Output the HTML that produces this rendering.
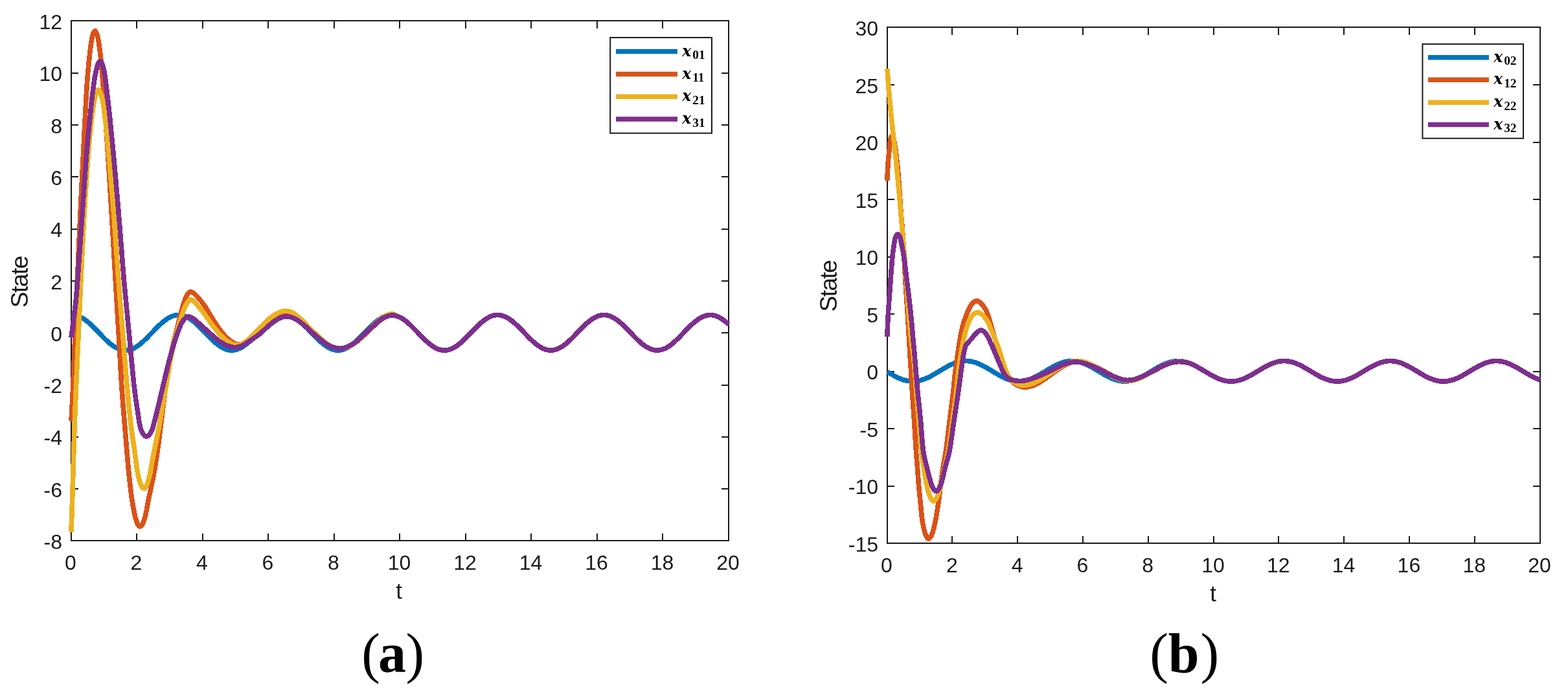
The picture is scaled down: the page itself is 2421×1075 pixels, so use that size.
<!DOCTYPE html>
<html lang="en"><head><meta charset="utf-8"><title>State trajectories</title>
<style>html,body{margin:0;padding:0;background:#fff}body{width:2421px;height:1075px;overflow:hidden}svg{display:block}
.tk{font-family:"Liberation Sans",Arial,Helvetica,sans-serif;font-size:32.00px;fill:#1a1a1a}
.al{font-family:"Liberation Sans",Arial,Helvetica,sans-serif;font-size:34.80px;fill:#1a1a1a}.yl{font-size:37.00px;letter-spacing:-1.50px}
.lg{font-family:"Liberation Serif","Times New Roman",serif;fill:#000}
.lx{font-family:"DejaVu Serif","Liberation Serif",serif;font-style:italic;font-weight:bold;font-size:23.50px}.ls{font-weight:bold;font-size:19.30px}
.cap{font-family:"Liberation Serif","Times New Roman",serif;font-size:86.00px;fill:#000}.cap .b{font-weight:bold}
.cv{fill:none;stroke-width:7.60;stroke-linejoin:round;stroke-linecap:butt;shape-rendering:crispEdges}.axl{shape-rendering:crispEdges}
</style></head><body>
<svg width="2421" height="1075" viewBox="0 0 2421 1075">
<rect width="2421" height="1075" fill="#fff"/>
<g id="plot-a">
<path class="axl" d="M211.00 835.00v-11.00 M211.00 32.00v12.00 M313.00 835.00v-11.00 M313.00 32.00v12.00 M414.00 835.00v-11.00 M414.00 32.00v12.00 M516.00 835.00v-11.00 M516.00 32.00v12.00 M617.00 835.00v-11.00 M617.00 32.00v12.00 M719.00 835.00v-11.00 M719.00 32.00v12.00 M820.00 835.00v-11.00 M820.00 32.00v12.00 M922.00 835.00v-11.00 M922.00 32.00v12.00 M1023.00 835.00v-11.00 M1023.00 32.00v12.00 M110.00 755.00h11.00 M1125.00 755.00h-11.00 M110.00 675.00h11.00 M1125.00 675.00h-11.00 M110.00 595.00h11.00 M1125.00 595.00h-11.00 M110.00 514.00h11.00 M1125.00 514.00h-11.00 M110.00 434.00h11.00 M1125.00 434.00h-11.00 M110.00 354.00h11.00 M1125.00 354.00h-11.00 M110.00 273.00h11.00 M1125.00 273.00h-11.00 M110.00 193.00h11.00 M1125.00 193.00h-11.00 M110.00 113.00h11.00 M1125.00 113.00h-11.00" stroke="#1a1a1a" stroke-width="2.00" fill="none"/>
<rect class="axl" x="110.00" y="32.00" width="1015.00" height="803.00" fill="none" stroke="#1a1a1a" stroke-width="2.00"/>
<g class="tk" text-anchor="middle">
<text x="109.0" y="879.8">0</text>
<text x="210.5" y="879.8">2</text>
<text x="312.0" y="879.8">4</text>
<text x="413.5" y="879.8">6</text>
<text x="515.0" y="879.8">8</text>
<text x="616.5" y="879.8">10</text>
<text x="718.0" y="879.8">12</text>
<text x="819.5" y="879.8">14</text>
<text x="921.0" y="879.8">16</text>
<text x="1022.5" y="879.8">18</text>
<text x="1124.0" y="879.8">20</text>
</g>
<g class="tk" text-anchor="end">
<text x="96.0" y="848.0">-8</text>
<text x="96.0" y="767.7">-6</text>
<text x="96.0" y="687.4">-4</text>
<text x="96.0" y="607.1">-2</text>
<text x="96.0" y="526.8">0</text>
<text x="96.0" y="446.5">2</text>
<text x="96.0" y="366.2">4</text>
<text x="96.0" y="285.9">6</text>
<text x="96.0" y="205.6">8</text>
<text x="96.0" y="125.3">10</text>
<text x="96.0" y="45.0">12</text>
</g>
<path class="cv" stroke="#0072BD" d="M110.0 486.5C111.7 486.4 113.4 486.5 115.1 486.7C116.8 487.0 118.5 487.4 120.2 488.0C121.9 488.5 123.6 489.3 125.2 490.2C126.9 491.1 128.6 492.1 130.3 493.2C132.0 494.4 133.7 495.7 135.4 497.1C137.1 498.5 138.8 500.0 140.5 501.6C142.2 503.2 143.8 504.8 145.5 506.5C147.2 508.2 148.9 510.0 150.6 511.7C152.3 513.5 154.0 515.3 155.7 517.0C157.4 518.8 159.0 520.5 160.8 522.2C162.4 523.9 164.1 525.5 165.8 527.1C167.5 528.6 169.2 530.1 170.9 531.4C172.6 532.7 174.3 534.0 176.0 535.1C177.6 536.2 179.3 537.2 181.1 538.0C182.7 538.8 184.4 539.5 186.1 540.0C187.8 540.5 189.5 540.8 191.2 541.0C192.9 541.1 194.6 541.1 196.3 541.0C198.0 540.8 199.7 540.4 201.3 539.9C203.1 539.4 204.8 538.7 206.4 537.9C208.1 537.1 209.8 536.0 211.5 535.0C213.2 533.8 214.9 532.6 216.6 531.2C218.3 529.9 220.0 528.4 221.7 526.8C223.4 525.3 225.0 523.6 226.7 522.0C228.4 520.3 230.1 518.5 231.8 516.8C233.5 515.0 235.2 513.3 236.9 511.5C238.6 509.8 240.2 508.0 241.9 506.3C243.6 504.6 245.3 502.9 247.0 501.4C248.7 499.8 250.4 498.3 252.1 496.9C253.8 495.6 255.5 494.2 257.2 493.1C258.8 492.0 260.5 490.9 262.2 490.0C263.9 489.2 265.6 488.5 267.3 487.9C269.0 487.4 270.7 486.9 272.4 486.7C274.1 486.5 275.8 486.4 277.5 486.6C279.2 486.7 280.9 487.0 282.6 487.4C284.3 487.9 286.0 488.5 287.6 489.3C289.3 490.1 291.0 491.0 292.7 492.1C294.4 493.1 296.1 494.4 297.8 495.7C299.5 497.0 301.2 498.4 302.9 499.9C304.6 501.5 306.2 503.1 307.9 504.7C309.6 506.4 311.3 508.1 313.0 509.9C314.7 511.6 316.4 513.4 318.1 515.2C319.8 516.9 321.4 518.7 323.1 520.4C324.8 522.1 326.5 523.8 328.2 525.4C329.9 527.0 331.6 528.5 333.3 529.9C335.0 531.3 336.7 532.7 338.4 533.9C340.0 535.1 341.7 536.1 343.5 537.1C345.1 538.0 346.8 538.8 348.5 539.4C350.2 540.0 351.9 540.5 353.6 540.7C355.3 541.0 357.0 541.1 358.7 541.1C360.4 541.0 362.1 540.8 363.8 540.4C365.5 540.0 367.2 539.4 368.8 538.7C370.5 538.0 372.2 537.1 373.9 536.1C375.6 535.1 377.3 533.9 379.0 532.6C380.7 531.3 382.4 529.9 384.1 528.5C385.8 527.0 387.4 525.4 389.1 523.7C390.8 522.1 392.5 520.4 394.2 518.7C395.9 516.9 397.6 515.1 399.3 513.4C401.0 511.6 402.6 509.8 404.4 508.1C406.0 506.4 407.7 504.7 409.4 503.1C411.1 501.5 412.8 499.9 414.5 498.4C416.2 497.0 417.9 495.6 419.6 494.4C421.2 493.2 422.9 492.0 424.6 491.0C426.3 490.1 428.0 489.2 429.7 488.5C431.4 487.9 433.1 487.4 434.8 487.0C436.5 486.7 438.2 486.5 439.9 486.5C441.6 486.5 443.3 486.7 445.0 487.0C446.7 487.3 448.4 487.9 450.0 488.5C451.7 489.2 453.4 490.0 455.1 491.0C456.8 492.0 458.5 493.1 460.2 494.3C461.9 495.5 463.6 496.9 465.2 498.4C467.0 499.8 468.6 501.4 470.3 503.0C472.0 504.6 473.7 506.3 475.4 508.0C477.1 509.8 478.8 511.5 480.5 513.3C482.2 515.0 483.9 516.8 485.6 518.6C487.2 520.3 488.9 522.0 490.6 523.7C492.3 525.3 494.0 526.9 495.7 528.4C497.4 529.9 499.1 531.3 500.8 532.6C502.4 533.8 504.1 535.0 505.9 536.0C507.5 537.0 509.2 537.9 510.9 538.7C512.6 539.4 514.3 540.0 516.0 540.4C517.7 540.8 519.4 541.0 521.1 541.1C522.8 541.1 524.5 541.0 526.2 540.8C527.9 540.5 529.6 540.0 531.2 539.4C532.9 538.8 534.6 538.0 536.3 537.1C538.0 536.2 539.7 535.1 541.4 533.9C543.1 532.7 544.8 531.4 546.5 530.0C548.2 528.6 549.9 527.0 551.5 525.5C553.2 523.9 554.9 522.2 556.6 520.5C558.3 518.8 560.0 517.0 561.7 515.3C563.4 513.5 565.1 511.7 566.8 510.0C568.4 508.2 570.1 506.5 571.8 504.8C573.5 503.2 575.2 501.5 576.9 500.0C578.6 498.5 580.3 497.1 582.0 495.7C583.6 494.4 585.3 493.2 587.0 492.1C588.7 491.1 590.4 490.1 592.1 489.3C593.8 488.6 595.5 487.9 597.2 487.4C598.9 487.0 600.6 486.7 602.3 486.6C604.0 486.4 605.7 486.5 607.4 486.7C609.1 486.9 610.8 487.3 612.4 487.9C614.1 488.4 615.8 489.2 617.5 490.0C619.2 490.9 620.9 491.9 622.6 493.0C624.3 494.2 626.0 495.5 627.7 496.8C629.4 498.2 631.1 499.7 632.7 501.3C634.4 502.9 636.1 504.5 637.8 506.2C639.5 507.9 641.2 509.7 642.9 511.4C644.6 513.2 646.3 515.0 648.0 516.7C649.6 518.4 651.3 520.2 653.0 521.9C654.7 523.6 656.4 525.2 658.1 526.8C659.8 528.3 661.5 529.8 663.2 531.2C664.8 532.5 666.5 533.8 668.2 534.9C669.9 536.0 671.6 537.0 673.3 537.8C675.0 538.7 676.7 539.4 678.4 539.9C680.1 540.4 681.8 540.8 683.5 541.0C685.2 541.1 686.9 541.1 688.5 541.0C690.2 540.8 692.0 540.5 693.6 540.0C695.3 539.5 697.0 538.8 698.7 538.0C700.4 537.2 702.1 536.2 703.8 535.2C705.5 534.1 707.2 532.8 708.9 531.5C710.6 530.1 712.3 528.6 713.9 527.1C715.6 525.6 717.3 523.9 719.0 522.3C720.7 520.6 722.4 518.9 724.1 517.1C725.8 515.4 727.5 513.6 729.2 511.8C730.8 510.1 732.5 508.3 734.2 506.6C735.9 504.9 737.6 503.3 739.3 501.7C741.0 500.1 742.7 498.6 744.4 497.2C746.0 495.8 747.7 494.5 749.5 493.3C751.1 492.2 752.8 491.1 754.5 490.2C756.2 489.3 757.9 488.6 759.6 488.0C761.3 487.4 763.0 487.0 764.7 486.8C766.4 486.5 768.1 486.4 769.8 486.5C771.4 486.6 773.2 486.9 774.8 487.3C776.5 487.8 778.2 488.4 779.9 489.1C781.6 489.9 783.3 490.8 785.0 491.9C786.7 492.9 788.4 494.1 790.0 495.4C791.8 496.7 793.5 498.2 795.1 499.7C796.8 501.2 798.5 502.8 800.2 504.4C801.9 506.1 803.6 507.8 805.3 509.5C807.0 511.3 808.7 513.1 810.4 514.8C812.0 516.6 813.7 518.4 815.4 520.1C817.1 521.8 818.8 523.5 820.5 525.1C822.2 526.7 823.9 528.2 825.6 529.7C827.2 531.1 828.9 532.4 830.7 533.7C832.3 534.8 834.0 536.0 835.7 536.9C837.4 537.8 839.1 538.6 840.8 539.3C842.5 539.9 844.2 540.4 845.9 540.7C847.6 541.0 849.3 541.1 851.0 541.1C852.6 541.1 854.4 540.8 856.0 540.5C857.7 540.1 859.4 539.5 861.1 538.9C862.8 538.1 864.5 537.3 866.2 536.3C867.9 535.3 869.6 534.1 871.2 532.9C873.0 531.6 874.7 530.2 876.3 528.7C878.0 527.3 879.7 525.7 881.4 524.1C883.1 522.4 884.8 520.7 886.5 519.0C888.2 517.2 889.9 515.5 891.5 513.7C893.2 512.0 894.9 510.2 896.6 508.4C898.3 506.7 900.0 505.0 901.7 503.4C903.4 501.8 905.1 500.2 906.8 498.7C908.4 497.3 910.1 495.9 911.9 494.6C913.5 493.4 915.2 492.2 916.9 491.2C918.6 490.2 920.3 489.4 922.0 488.7C923.7 488.0 925.4 487.4 927.1 487.1C928.8 486.7 930.5 486.5 932.1 486.5C933.8 486.5 935.5 486.6 937.2 486.9C938.9 487.3 940.6 487.8 942.3 488.4C944.0 489.0 945.7 489.9 947.4 490.8C949.1 491.8 950.8 492.9 952.5 494.1C954.2 495.3 955.9 496.7 957.5 498.1C959.2 499.5 960.9 501.1 962.6 502.7C964.3 504.3 966.0 506.0 967.7 507.7C969.4 509.4 971.1 511.2 972.8 513.0C974.4 514.7 976.1 516.5 977.8 518.2C979.5 520.0 981.2 521.7 982.9 523.4C984.6 525.0 986.3 526.6 988.0 528.1C989.6 529.6 991.3 531.0 993.1 532.3C994.7 533.6 996.4 534.8 998.1 535.8C999.8 536.9 1001.5 537.8 1003.2 538.5C1004.9 539.3 1006.6 539.9 1008.3 540.3C1009.9 540.7 1011.7 541.0 1013.4 541.1C1015.0 541.2 1016.7 541.1 1018.4 540.8C1020.1 540.6 1021.8 540.1 1023.5 539.5C1025.2 538.9 1026.9 538.2 1028.6 537.3C1030.3 536.4 1032.0 535.3 1033.7 534.2C1035.4 533.0 1037.1 531.7 1038.7 530.3C1040.4 528.9 1042.1 527.3 1043.8 525.8C1045.5 524.2 1047.2 522.5 1048.9 520.8C1050.6 519.1 1052.3 517.3 1054.0 515.6C1055.6 513.8 1057.3 512.0 1059.0 510.3C1060.7 508.6 1062.4 506.8 1064.1 505.1C1065.8 503.5 1067.5 501.8 1069.2 500.3C1070.8 498.8 1072.5 497.3 1074.2 496.0C1075.9 494.7 1077.6 493.4 1079.3 492.3C1081.0 491.3 1082.7 490.3 1084.4 489.5C1086.1 488.7 1087.8 488.0 1089.5 487.5C1091.1 487.1 1092.9 486.7 1094.6 486.6C1096.2 486.4 1097.9 486.5 1099.6 486.7C1101.3 486.9 1103.0 487.2 1104.7 487.8C1106.4 488.3 1108.1 489.0 1109.8 489.8C1111.5 490.7 1113.2 491.7 1114.8 492.8C1116.6 494.0 1118.3 495.2 1119.9 496.6C1121.6 498.0 1123.3 499.4 1125.0 501.0"/>
<path class="cv" stroke="#D95319" d="M110.0 650.5C110.9 636.1 111.7 619.4 112.6 600.5C113.7 575.8 114.8 543.4 116.0 515.0C117.1 486.8 118.2 459.9 119.5 430.5C120.9 398.6 122.4 363.8 124.0 330.5C125.6 297.2 127.2 263.8 128.9 230.5C130.6 197.2 132.6 155.3 134.3 130.5C135.3 115.8 136.2 106.2 137.3 95.3C138.3 85.9 139.2 76.7 140.4 69.0C141.3 63.0 142.1 57.0 143.5 53.1C144.4 50.7 145.6 47.6 146.7 47.6C147.8 47.6 149.0 50.7 149.9 53.1C151.3 57.0 152.1 63.0 153.0 69.0C154.2 76.7 155.1 85.9 156.1 95.3C157.2 106.2 158.0 115.8 159.1 130.5C161.0 155.3 163.9 197.2 166.1 230.5C168.3 263.8 170.3 297.2 172.3 330.5C174.3 363.8 176.2 398.6 178.1 430.5C179.8 459.9 181.5 486.7 183.2 515.0C184.9 543.4 186.3 574.5 188.1 600.5C189.6 622.3 191.2 639.7 192.9 660.5C194.8 682.9 196.9 710.6 198.9 730.5C200.4 745.2 201.9 758.3 203.4 769.0C204.5 776.5 205.4 782.4 206.6 788.3C207.6 793.3 208.6 798.2 209.8 802.1C210.8 805.3 211.6 808.5 213.0 810.4C213.9 811.8 215.1 813.2 216.2 813.2C217.3 813.2 218.5 811.9 219.4 810.7C220.7 809.0 221.6 806.0 222.6 803.2C223.8 799.6 224.8 795.2 225.8 790.6C227.0 785.3 227.6 780.2 229.0 773.1C231.2 762.0 235.3 744.1 237.8 730.5C240.1 718.1 241.7 706.5 243.4 694.7C245.1 683.2 246.2 673.5 247.9 660.5C250.1 643.3 252.9 619.3 255.6 600.5C258.0 583.7 260.6 566.1 263.0 553.0C264.7 543.7 266.2 536.8 267.9 529.3C269.4 522.5 271.1 516.1 272.6 510.0C274.0 504.4 275.3 499.6 276.8 494.0C278.4 487.7 280.1 480.0 281.9 474.0C283.4 469.0 284.9 464.2 286.5 460.5C287.7 457.7 288.6 455.2 290.0 453.5C291.1 452.2 292.2 450.9 293.6 450.7C295.1 450.5 296.9 451.5 298.5 452.5C300.4 453.6 301.9 455.3 304.0 457.5C307.3 461.0 311.9 466.7 315.5 471.8C319.3 477.2 322.6 483.3 326.2 489.0C329.8 494.7 333.3 500.7 337.0 505.9C340.4 510.6 343.8 515.2 347.5 519.0C350.8 522.5 354.4 525.8 358.0 528.0C361.1 529.9 364.3 531.6 367.5 532.0C370.6 532.4 373.8 531.6 377.0 530.5C380.7 529.2 384.4 526.6 388.0 524.0C392.0 521.2 395.5 517.8 400.0 514.0C405.8 509.0 413.8 500.9 420.0 496.5C424.6 493.2 428.8 490.6 433.0 489.0C436.4 487.7 439.7 486.8 443.0 486.8C446.3 486.8 449.6 487.5 453.0 489.0C457.2 490.8 461.4 494.4 466.0 498.0C471.9 502.6 478.5 509.4 485.0 515.0C491.5 520.6 498.8 527.7 505.0 531.5C509.6 534.3 514.1 536.2 518.0 537.3C520.9 538.1 523.2 538.5 526.0 538.4C529.2 538.3 532.4 537.9 536.0 536.5C540.9 534.7 546.4 531.2 552.0 527.0C559.3 521.6 567.8 511.8 575.0 505.5C581.0 500.2 586.3 494.6 592.0 491.5C596.8 488.9 601.8 486.8 606.5 486.8C611.1 486.8 616.5 489.6 620.0 491.4C622.6 492.7 624.1 494.1 626.1 495.6C628.2 497.2 630.2 499.0 632.2 500.8C634.3 502.7 636.3 504.7 638.3 506.7C640.4 508.8 642.4 510.9 644.4 513.0C646.4 515.1 648.4 517.3 650.5 519.3C652.5 521.4 654.5 523.4 656.6 525.3C658.6 527.2 660.6 529.1 662.7 530.7C664.7 532.4 666.7 533.9 668.8 535.2C670.7 536.5 672.8 537.7 674.8 538.6C676.8 539.4 678.9 540.1 680.9 540.5C682.9 541.0 685.0 541.2 687.0 541.1C689.1 541.0 691.1 540.7 693.1 540.2C695.2 539.6 697.2 538.8 699.2 537.8C701.3 536.8 703.3 535.5 705.3 534.1C707.4 532.7 709.4 531.1 711.4 529.4C713.5 527.6 715.5 525.7 717.5 523.8C719.5 521.8 721.5 519.7 723.6 517.6C725.6 515.6 727.6 513.4 729.7 511.3C731.7 509.2 733.7 507.1 735.7 505.1C737.8 503.1 739.8 501.2 741.8 499.4C743.8 497.6 745.9 495.9 747.9 494.4C749.9 492.9 751.9 491.6 754.0 490.5C756.0 489.4 758.0 488.5 760.1 487.8C762.1 487.2 764.2 486.8 766.2 486.6C768.2 486.4 770.3 486.5 772.3 486.8C774.3 487.1 776.4 487.7 778.4 488.5C780.4 489.3 782.5 490.4 784.5 491.6C786.5 492.8 788.6 494.3 790.6 495.8C792.6 497.4 794.6 499.2 796.6 501.0C798.7 502.9 800.7 504.9 802.7 507.0C804.8 509.0 806.8 511.1 808.8 513.2C810.9 515.3 812.9 517.5 814.9 519.6C816.9 521.6 819.0 523.6 821.0 525.6C823.0 527.4 825.0 529.3 827.1 530.9C829.1 532.5 831.1 534.1 833.2 535.4C835.2 536.6 837.2 537.8 839.3 538.7C841.3 539.5 843.3 540.2 845.4 540.6C847.4 541.0 849.4 541.2 851.5 541.1C853.5 541.0 855.5 540.6 857.5 540.1C859.6 539.5 861.6 538.7 863.6 537.7C865.7 536.6 867.7 535.4 869.7 534.0C871.8 532.5 873.8 530.9 875.8 529.2C877.9 527.4 879.9 525.5 881.9 523.6C884.0 521.6 886.0 519.5 888.0 517.4C890.0 515.3 892.1 513.2 894.1 511.1C896.1 509.0 898.1 506.9 900.2 504.9C902.2 502.9 904.2 500.9 906.3 499.1C908.3 497.4 910.3 495.7 912.4 494.2C914.3 492.8 916.4 491.4 918.4 490.4C920.4 489.3 922.5 488.4 924.5 487.8C926.5 487.1 928.6 486.7 930.6 486.6C932.6 486.4 934.7 486.5 936.7 486.9C938.8 487.2 940.8 487.8 942.8 488.6C944.9 489.4 946.9 490.5 948.9 491.7C951.0 492.9 953.0 494.4 955.0 496.0C957.1 497.6 959.1 499.4 961.1 501.2C963.1 503.1 965.2 505.2 967.2 507.2C969.2 509.2 971.2 511.4 973.3 513.5C975.3 515.6 977.3 517.7 979.3 519.8C981.4 521.8 983.4 523.9 985.4 525.8C987.4 527.6 989.5 529.5 991.5 531.1C993.5 532.7 995.5 534.2 997.6 535.5C999.6 536.8 1001.6 537.9 1003.7 538.8C1005.7 539.6 1007.7 540.3 1009.8 540.6C1011.8 541.0 1013.9 541.2 1015.9 541.1C1017.9 541.0 1020.0 540.6 1022.0 540.0C1024.0 539.4 1026.1 538.6 1028.1 537.6C1030.1 536.5 1032.2 535.2 1034.2 533.8C1036.2 532.4 1038.3 530.7 1040.2 529.0C1042.3 527.2 1044.3 525.3 1046.3 523.3C1048.4 521.3 1050.4 519.2 1052.4 517.2C1054.5 515.1 1056.5 512.9 1058.5 510.8C1060.5 508.7 1062.6 506.6 1064.6 504.6C1066.6 502.7 1068.6 500.7 1070.7 498.9C1072.7 497.2 1074.7 495.5 1076.8 494.1C1078.8 492.6 1080.8 491.3 1082.9 490.2C1084.9 489.2 1086.9 488.3 1089.0 487.7C1091.0 487.1 1093.0 486.7 1095.1 486.6C1097.1 486.4 1099.1 486.5 1101.1 486.9C1103.2 487.2 1105.2 487.9 1107.2 488.7C1109.3 489.5 1111.3 490.6 1113.3 491.8C1115.4 493.1 1117.5 494.6 1119.4 496.2C1121.4 497.7 1123.2 499.3 1125.0 501.0"/>
<path class="cv" stroke="#EDB120" d="M110.0 821.6C110.3 812.9 110.6 802.6 111.0 790.5C111.5 773.8 112.3 751.3 112.9 730.5C113.6 708.1 114.2 682.9 115.0 660.5C115.7 639.7 116.5 622.3 117.4 600.5C118.5 574.5 119.9 543.4 121.2 515.0C122.5 486.8 123.6 459.8 125.0 430.5C126.5 398.6 128.1 363.8 130.1 330.5C132.1 297.2 134.9 254.8 136.9 230.5C138.0 216.6 138.9 207.9 140.0 197.6C141.0 188.5 141.9 179.7 143.0 171.8C143.9 165.1 144.8 158.7 146.0 153.4C146.9 149.2 147.7 144.9 149.0 142.3C149.9 140.6 151.0 138.6 152.0 138.6C153.0 138.6 154.1 140.6 155.0 142.3C156.3 144.9 157.1 149.2 158.0 153.4C159.2 158.7 160.1 165.1 161.0 171.8C162.1 179.7 163.0 188.5 164.0 197.6C165.1 207.9 165.9 216.6 167.2 230.5C169.4 254.8 173.1 297.2 175.7 330.5C178.3 363.8 180.4 398.6 182.8 430.5C185.0 459.9 187.2 486.8 189.5 515.0C191.8 543.4 194.1 574.5 196.5 600.5C198.5 622.3 200.6 643.3 202.7 660.5C204.3 673.5 206.0 683.1 207.6 694.7C209.3 706.6 210.9 721.8 212.6 730.8C213.6 736.3 214.6 740.1 215.8 743.9C216.8 746.8 217.7 749.9 219.0 751.7C219.9 753.0 221.1 754.3 222.2 754.3C223.3 754.3 224.5 753.0 225.4 751.7C226.7 749.9 227.6 746.8 228.6 743.9C229.8 740.1 230.8 735.6 231.8 730.8C233.0 725.1 233.9 718.1 235.0 712.0C236.1 706.1 237.1 701.4 238.4 694.7C240.3 685.2 243.2 671.4 245.3 660.5C247.2 650.6 248.6 641.7 250.3 632.0C252.1 621.8 253.8 611.9 255.8 600.5C258.1 586.9 260.7 569.6 263.3 556.0C265.5 544.4 267.6 533.8 270.0 524.0C272.0 515.7 274.4 508.0 276.5 501.0C278.2 495.1 279.7 489.8 281.5 484.7C283.1 480.2 284.8 475.5 286.5 472.0C287.8 469.4 289.0 467.1 290.5 465.5C291.6 464.3 292.8 463.0 294.1 462.8C295.6 462.6 297.4 463.7 299.0 464.8C301.1 466.3 302.8 468.9 305.0 471.5C308.1 475.1 312.1 480.1 315.5 484.7C319.1 489.4 322.4 494.7 326.0 499.5C329.6 504.3 333.3 509.4 337.0 513.7C340.4 517.7 343.8 521.5 347.5 524.5C350.8 527.2 354.5 529.6 358.0 531.0C361.0 532.2 363.9 533.2 367.0 533.0C370.3 532.8 373.8 531.4 377.0 529.5C380.8 527.3 384.3 523.5 388.0 520.0C392.0 516.2 395.5 511.9 400.0 507.5C405.3 502.2 412.4 494.8 418.0 490.5C422.2 487.2 426.1 484.7 430.0 483.0C433.4 481.5 436.6 480.5 440.0 480.3C443.3 480.1 446.6 480.5 450.0 482.0C454.5 483.9 459.1 488.2 464.0 492.5C470.3 497.9 477.1 506.1 484.0 512.5C490.8 518.9 498.6 526.7 505.0 531.0C509.6 534.1 514.1 536.3 518.0 537.5C520.9 538.4 523.2 538.7 526.0 538.6C529.2 538.5 532.4 537.9 536.0 536.5C540.9 534.5 546.4 530.9 552.0 526.5C559.3 520.8 567.8 510.6 575.0 504.0C581.0 498.5 586.4 492.7 592.0 489.5C596.4 486.9 600.5 484.6 605.0 484.8C609.9 485.0 616.2 489.3 620.0 491.4C622.6 492.8 624.1 494.1 626.1 495.6C628.2 497.2 630.2 499.0 632.2 500.8C634.3 502.7 636.3 504.7 638.3 506.7C640.4 508.8 642.4 510.9 644.4 513.0C646.4 515.1 648.4 517.3 650.5 519.3C652.5 521.4 654.5 523.4 656.6 525.3C658.6 527.2 660.6 529.1 662.7 530.7C664.7 532.4 666.7 533.9 668.8 535.2C670.7 536.5 672.8 537.7 674.8 538.6C676.8 539.4 678.9 540.1 680.9 540.5C682.9 541.0 685.0 541.2 687.0 541.1C689.1 541.0 691.1 540.7 693.1 540.2C695.2 539.6 697.2 538.8 699.2 537.8C701.3 536.8 703.3 535.5 705.3 534.1C707.4 532.7 709.4 531.1 711.4 529.4C713.5 527.6 715.5 525.7 717.5 523.8C719.5 521.8 721.5 519.7 723.6 517.6C725.6 515.6 727.6 513.4 729.7 511.3C731.7 509.2 733.7 507.1 735.7 505.1C737.8 503.1 739.8 501.2 741.8 499.4C743.8 497.6 745.9 495.9 747.9 494.4C749.9 492.9 751.9 491.6 754.0 490.5C756.0 489.4 758.0 488.5 760.1 487.8C762.1 487.2 764.2 486.8 766.2 486.6C768.2 486.4 770.3 486.5 772.3 486.8C774.3 487.1 776.4 487.7 778.4 488.5C780.4 489.3 782.5 490.4 784.5 491.6C786.5 492.8 788.6 494.3 790.6 495.8C792.6 497.4 794.6 499.2 796.6 501.0C798.7 502.9 800.7 504.9 802.7 507.0C804.8 509.0 806.8 511.1 808.8 513.2C810.9 515.3 812.9 517.5 814.9 519.6C816.9 521.6 819.0 523.6 821.0 525.6C823.0 527.4 825.0 529.3 827.1 530.9C829.1 532.5 831.1 534.1 833.2 535.4C835.2 536.6 837.2 537.8 839.3 538.7C841.3 539.5 843.3 540.2 845.4 540.6C847.4 541.0 849.4 541.2 851.5 541.1C853.5 541.0 855.5 540.6 857.5 540.1C859.6 539.5 861.6 538.7 863.6 537.7C865.7 536.6 867.7 535.4 869.7 534.0C871.8 532.5 873.8 530.9 875.8 529.2C877.9 527.4 879.9 525.5 881.9 523.6C884.0 521.6 886.0 519.5 888.0 517.4C890.0 515.3 892.1 513.2 894.1 511.1C896.1 509.0 898.1 506.9 900.2 504.9C902.2 502.9 904.2 500.9 906.3 499.1C908.3 497.4 910.3 495.7 912.4 494.2C914.3 492.8 916.4 491.4 918.4 490.4C920.4 489.3 922.5 488.4 924.5 487.8C926.5 487.1 928.6 486.7 930.6 486.6C932.6 486.4 934.7 486.5 936.7 486.9C938.8 487.2 940.8 487.8 942.8 488.6C944.9 489.4 946.9 490.5 948.9 491.7C951.0 492.9 953.0 494.4 955.0 496.0C957.1 497.6 959.1 499.4 961.1 501.2C963.1 503.1 965.2 505.2 967.2 507.2C969.2 509.2 971.2 511.4 973.3 513.5C975.3 515.6 977.3 517.7 979.3 519.8C981.4 521.8 983.4 523.9 985.4 525.8C987.4 527.6 989.5 529.5 991.5 531.1C993.5 532.7 995.5 534.2 997.6 535.5C999.6 536.8 1001.6 537.9 1003.7 538.8C1005.7 539.6 1007.7 540.3 1009.8 540.6C1011.8 541.0 1013.9 541.2 1015.9 541.1C1017.9 541.0 1020.0 540.6 1022.0 540.0C1024.0 539.4 1026.1 538.6 1028.1 537.6C1030.1 536.5 1032.2 535.2 1034.2 533.8C1036.2 532.4 1038.3 530.7 1040.2 529.0C1042.3 527.2 1044.3 525.3 1046.3 523.3C1048.4 521.3 1050.4 519.2 1052.4 517.2C1054.5 515.1 1056.5 512.9 1058.5 510.8C1060.5 508.7 1062.6 506.6 1064.6 504.6C1066.6 502.7 1068.6 500.7 1070.7 498.9C1072.7 497.2 1074.7 495.5 1076.8 494.1C1078.8 492.6 1080.8 491.3 1082.9 490.2C1084.9 489.2 1086.9 488.3 1089.0 487.7C1091.0 487.1 1093.0 486.7 1095.1 486.6C1097.1 486.4 1099.1 486.5 1101.1 486.9C1103.2 487.2 1105.2 487.9 1107.2 488.7C1109.3 489.5 1111.3 490.6 1113.3 491.8C1115.4 493.1 1117.5 494.6 1119.4 496.2C1121.4 497.7 1123.2 499.3 1125.0 501.0"/>
<path class="cv" stroke="#7E2F8E" d="M110.0 521.2C111.0 512.9 112.1 504.5 113.2 496.0C114.3 487.4 115.6 479.6 116.6 470.0C117.9 458.2 118.7 446.7 120.0 430.5C122.0 404.8 124.6 363.8 127.0 330.5C129.4 297.2 131.9 259.0 134.3 230.5C136.1 209.3 137.8 192.5 139.6 175.0C141.2 159.3 143.0 142.4 144.7 130.5C145.8 122.5 146.8 116.2 148.1 110.5C149.1 106.0 149.9 101.5 151.3 98.8C152.2 97.0 153.4 94.9 154.5 94.9C155.6 94.9 156.8 97.0 157.7 98.8C159.1 101.5 160.0 106.0 160.9 110.5C162.1 116.2 162.8 122.5 163.8 130.5C165.3 142.4 167.2 159.3 168.9 175.0C170.8 192.5 172.5 209.3 174.5 230.5C177.2 259.0 180.5 297.2 183.3 330.5C186.1 363.8 188.4 398.6 191.2 430.5C193.8 459.9 196.6 486.8 199.3 515.0C202.0 543.4 204.9 578.2 207.6 600.5C209.3 614.9 210.9 625.3 212.6 636.0C214.0 644.9 215.2 654.8 216.8 660.6C217.7 663.8 218.7 665.8 219.8 667.9C220.7 669.7 221.7 671.5 222.9 672.6C223.8 673.4 225.0 674.1 226.0 674.1C227.0 674.1 228.1 673.5 229.1 672.8C230.3 671.9 231.3 670.4 232.2 668.9C233.3 667.1 234.2 665.4 235.2 662.7C236.9 658.0 238.8 649.7 240.5 643.0C242.3 636.1 243.9 629.0 245.6 622.0C247.3 614.9 248.9 607.9 250.7 600.5C252.6 592.6 254.5 584.1 256.5 576.0C258.5 568.0 260.4 559.9 262.5 552.0C264.6 544.3 266.9 536.5 269.2 529.3C271.3 522.6 273.6 515.6 275.7 510.0C277.4 505.6 279.0 501.6 280.7 498.5C281.9 496.3 283.2 494.5 284.5 493.0C285.6 491.8 286.8 490.7 288.0 490.0C289.1 489.4 290.2 489.0 291.4 489.0C292.7 489.0 294.1 489.6 295.5 490.3C297.3 491.1 299.1 492.5 301.0 494.0C303.5 495.9 306.2 498.7 309.0 501.2C311.9 503.8 314.9 506.5 318.1 509.3C321.6 512.4 325.3 515.9 329.0 519.0C332.7 522.2 336.7 525.7 340.5 528.2C343.7 530.4 346.6 532.1 350.0 533.5C353.5 534.9 357.4 536.3 361.0 536.5C364.4 536.7 367.7 536.1 371.0 535.0C374.7 533.8 378.0 531.5 382.0 529.0C387.3 525.7 394.1 521.1 400.0 516.5C406.1 511.7 412.3 504.9 418.0 500.5C422.6 497.0 426.6 493.8 431.0 491.8C434.8 490.1 438.7 488.8 442.5 488.8C446.3 488.8 450.1 489.8 454.0 491.5C458.6 493.5 463.2 497.2 468.0 501.0C473.8 505.5 479.8 511.8 486.0 517.0C492.2 522.2 499.3 528.5 505.0 532.0C509.0 534.4 512.6 536.0 516.0 537.0C518.7 537.8 520.9 538.2 523.5 538.3C526.2 538.4 528.8 538.3 532.0 537.3C536.6 535.9 542.3 533.0 548.0 529.0C556.2 523.3 566.9 511.3 575.0 504.5C581.2 499.2 586.2 493.9 592.0 491.0C596.8 488.5 601.9 486.8 606.6 486.9C611.2 487.0 616.5 489.7 620.0 491.4C622.6 492.7 624.1 494.1 626.1 495.6C628.2 497.2 630.2 499.0 632.2 500.8C634.3 502.7 636.3 504.7 638.3 506.7C640.4 508.8 642.4 510.9 644.4 513.0C646.4 515.1 648.4 517.3 650.5 519.3C652.5 521.4 654.5 523.4 656.6 525.3C658.6 527.2 660.6 529.1 662.7 530.7C664.7 532.4 666.7 533.9 668.8 535.2C670.7 536.5 672.8 537.7 674.8 538.6C676.8 539.4 678.9 540.1 680.9 540.5C682.9 541.0 685.0 541.2 687.0 541.1C689.1 541.0 691.1 540.7 693.1 540.2C695.2 539.6 697.2 538.8 699.2 537.8C701.3 536.8 703.3 535.5 705.3 534.1C707.4 532.7 709.4 531.1 711.4 529.4C713.5 527.6 715.5 525.7 717.5 523.8C719.5 521.8 721.5 519.7 723.6 517.6C725.6 515.6 727.6 513.4 729.7 511.3C731.7 509.2 733.7 507.1 735.7 505.1C737.8 503.1 739.8 501.2 741.8 499.4C743.8 497.6 745.9 495.9 747.9 494.4C749.9 492.9 751.9 491.6 754.0 490.5C756.0 489.4 758.0 488.5 760.1 487.8C762.1 487.2 764.2 486.8 766.2 486.6C768.2 486.4 770.3 486.5 772.3 486.8C774.3 487.1 776.4 487.7 778.4 488.5C780.4 489.3 782.5 490.4 784.5 491.6C786.5 492.8 788.6 494.3 790.6 495.8C792.6 497.4 794.6 499.2 796.6 501.0C798.7 502.9 800.7 504.9 802.7 507.0C804.8 509.0 806.8 511.1 808.8 513.2C810.9 515.3 812.9 517.5 814.9 519.6C816.9 521.6 819.0 523.6 821.0 525.6C823.0 527.4 825.0 529.3 827.1 530.9C829.1 532.5 831.1 534.1 833.2 535.4C835.2 536.6 837.2 537.8 839.3 538.7C841.3 539.5 843.3 540.2 845.4 540.6C847.4 541.0 849.4 541.2 851.5 541.1C853.5 541.0 855.5 540.6 857.5 540.1C859.6 539.5 861.6 538.7 863.6 537.7C865.7 536.6 867.7 535.4 869.7 534.0C871.8 532.5 873.8 530.9 875.8 529.2C877.9 527.4 879.9 525.5 881.9 523.6C884.0 521.6 886.0 519.5 888.0 517.4C890.0 515.3 892.1 513.2 894.1 511.1C896.1 509.0 898.1 506.9 900.2 504.9C902.2 502.9 904.2 500.9 906.3 499.1C908.3 497.4 910.3 495.7 912.4 494.2C914.3 492.8 916.4 491.4 918.4 490.4C920.4 489.3 922.5 488.4 924.5 487.8C926.5 487.1 928.6 486.7 930.6 486.6C932.6 486.4 934.7 486.5 936.7 486.9C938.8 487.2 940.8 487.8 942.8 488.6C944.9 489.4 946.9 490.5 948.9 491.7C951.0 492.9 953.0 494.4 955.0 496.0C957.1 497.6 959.1 499.4 961.1 501.2C963.1 503.1 965.2 505.2 967.2 507.2C969.2 509.2 971.2 511.4 973.3 513.5C975.3 515.6 977.3 517.7 979.3 519.8C981.4 521.8 983.4 523.9 985.4 525.8C987.4 527.6 989.5 529.5 991.5 531.1C993.5 532.7 995.5 534.2 997.6 535.5C999.6 536.8 1001.6 537.9 1003.7 538.8C1005.7 539.6 1007.7 540.3 1009.8 540.6C1011.8 541.0 1013.9 541.2 1015.9 541.1C1017.9 541.0 1020.0 540.6 1022.0 540.0C1024.0 539.4 1026.1 538.6 1028.1 537.6C1030.1 536.5 1032.2 535.2 1034.2 533.8C1036.2 532.4 1038.3 530.7 1040.2 529.0C1042.3 527.2 1044.3 525.3 1046.3 523.3C1048.4 521.3 1050.4 519.2 1052.4 517.2C1054.5 515.1 1056.5 512.9 1058.5 510.8C1060.5 508.7 1062.6 506.6 1064.6 504.6C1066.6 502.7 1068.6 500.7 1070.7 498.9C1072.7 497.2 1074.7 495.5 1076.8 494.1C1078.8 492.6 1080.8 491.3 1082.9 490.2C1084.9 489.2 1086.9 488.3 1089.0 487.7C1091.0 487.1 1093.0 486.7 1095.1 486.6C1097.1 486.4 1099.1 486.5 1101.1 486.9C1103.2 487.2 1105.2 487.9 1107.2 488.7C1109.3 489.5 1111.3 490.6 1113.3 491.8C1115.4 493.1 1117.5 494.6 1119.4 496.2C1121.4 497.7 1123.2 499.3 1125.0 501.0"/>
<rect x="942.20" y="58.00" width="156.80" height="147.70" fill="#fff" stroke="#1a1a1a" stroke-width="2.00"/>
<path d="M951.0 79.5H1046.0" stroke="#0072BD" stroke-width="7.4"/>
<text class="lg" y="86.5"><tspan class="lx" x="1053.3">x</tspan><tspan class="ls" x="1069.3" dy="4.5">01</tspan></text>
<path d="M951.0 114.5H1046.0" stroke="#D95319" stroke-width="7.4"/>
<text class="lg" y="121.5"><tspan class="lx" x="1053.3">x</tspan><tspan class="ls" x="1069.3" dy="4.5">11</tspan></text>
<path d="M951.0 149.3H1046.0" stroke="#EDB120" stroke-width="7.4"/>
<text class="lg" y="156.3"><tspan class="lx" x="1053.3">x</tspan><tspan class="ls" x="1069.3" dy="4.5">21</tspan></text>
<path d="M951.0 184.0H1046.0" stroke="#7E2F8E" stroke-width="7.4"/>
<text class="lg" y="191.0"><tspan class="lx" x="1053.3">x</tspan><tspan class="ls" x="1069.3" dy="4.5">31</tspan></text>
<text class="al" text-anchor="middle" x="616.0" y="925.0">t</text>
<text class="al yl" text-anchor="middle" transform="translate(42.8 435.7) rotate(-90)">State</text>
<text class="cap" y="1037.7"><tspan x="558.2">(</tspan><tspan class="b" x="584.1">a</tspan><tspan x="626.4">)</tspan></text>
</g>
<g id="plot-b">
<path class="axl" d="M1470.00 839.00v-11.00 M1470.00 42.00v12.00 M1571.00 839.00v-11.00 M1571.00 42.00v12.00 M1672.00 839.00v-11.00 M1672.00 42.00v12.00 M1773.00 839.00v-11.00 M1773.00 42.00v12.00 M1874.00 839.00v-11.00 M1874.00 42.00v12.00 M1974.00 839.00v-11.00 M1974.00 42.00v12.00 M2075.00 839.00v-11.00 M2075.00 42.00v12.00 M2176.00 839.00v-11.00 M2176.00 42.00v12.00 M2277.00 839.00v-11.00 M2277.00 42.00v12.00 M1370.00 751.00h11.00 M2378.00 751.00h-11.00 M1370.00 662.00h11.00 M2378.00 662.00h-11.00 M1370.00 574.00h11.00 M2378.00 574.00h-11.00 M1370.00 485.00h11.00 M2378.00 485.00h-11.00 M1370.00 397.00h11.00 M2378.00 397.00h-11.00 M1370.00 308.00h11.00 M2378.00 308.00h-11.00 M1370.00 220.00h11.00 M2378.00 220.00h-11.00 M1370.00 131.00h11.00 M2378.00 131.00h-11.00" stroke="#1a1a1a" stroke-width="2.00" fill="none"/>
<rect class="axl" x="1370.00" y="42.00" width="1008.00" height="797.00" fill="none" stroke="#1a1a1a" stroke-width="2.00"/>
<g class="tk" text-anchor="middle">
<text x="1369.0" y="883.8">0</text>
<text x="1469.8" y="883.8">2</text>
<text x="1570.6" y="883.8">4</text>
<text x="1671.4" y="883.8">6</text>
<text x="1772.2" y="883.8">8</text>
<text x="1873.0" y="883.8">10</text>
<text x="1973.8" y="883.8">12</text>
<text x="2074.6" y="883.8">14</text>
<text x="2175.4" y="883.8">16</text>
<text x="2276.2" y="883.8">18</text>
<text x="2377.0" y="883.8">20</text>
</g>
<g class="tk" text-anchor="end">
<text x="1356.0" y="852.0">-15</text>
<text x="1356.0" y="763.4">-10</text>
<text x="1356.0" y="674.9">-5</text>
<text x="1356.0" y="586.3">0</text>
<text x="1356.0" y="497.8">5</text>
<text x="1356.0" y="409.2">10</text>
<text x="1356.0" y="320.7">15</text>
<text x="1356.0" y="232.1">20</text>
<text x="1356.0" y="143.6">25</text>
<text x="1356.0" y="55.0">30</text>
</g>
<path class="cv" stroke="#0072BD" d="M1370.0 574.3C1371.7 575.3 1373.4 576.3 1375.0 577.3C1376.7 578.3 1378.4 579.2 1380.1 580.1C1381.8 581.0 1383.4 581.9 1385.1 582.7C1386.8 583.5 1388.5 584.3 1390.2 585.0C1391.8 585.7 1393.5 586.3 1395.2 586.8C1396.9 587.3 1398.6 587.8 1400.2 588.1C1401.9 588.5 1403.6 588.7 1405.3 588.9C1407.0 589.1 1408.6 589.1 1410.3 589.1C1412.0 589.1 1413.7 588.9 1415.4 588.7C1417.0 588.5 1418.7 588.1 1420.4 587.7C1422.1 587.3 1423.8 586.8 1425.4 586.2C1427.1 585.6 1428.8 584.9 1430.5 584.2C1432.2 583.5 1433.9 582.7 1435.5 581.8C1437.2 581.0 1438.9 580.0 1440.6 579.1C1442.2 578.2 1443.9 577.2 1445.6 576.2C1447.3 575.2 1449.0 574.2 1450.6 573.2C1452.3 572.1 1454.0 571.1 1455.7 570.1C1457.4 569.1 1459.0 568.2 1460.7 567.2C1462.4 566.3 1464.1 565.4 1465.8 564.5C1467.4 563.7 1469.1 562.9 1470.8 562.2C1472.5 561.5 1474.1 560.8 1475.8 560.3C1477.5 559.7 1479.2 559.2 1480.9 558.8C1482.6 558.4 1484.2 558.1 1485.9 557.9C1487.6 557.7 1489.3 557.6 1491.0 557.6C1492.6 557.6 1494.3 557.6 1496.0 557.8C1497.7 558.0 1499.4 558.3 1501.0 558.7C1502.7 559.0 1504.4 559.5 1506.1 560.0C1507.8 560.6 1509.5 561.2 1511.1 561.9C1512.8 562.6 1514.5 563.4 1516.2 564.2C1517.9 565.0 1519.5 565.9 1521.2 566.8C1522.9 567.8 1524.6 568.7 1526.2 569.7C1527.9 570.7 1529.6 571.7 1531.3 572.7C1533.0 573.8 1534.6 574.8 1536.3 575.8C1538.0 576.8 1539.7 577.8 1541.4 578.7C1543.0 579.7 1544.7 580.6 1546.4 581.5C1548.1 582.3 1549.7 583.2 1551.4 583.9C1553.1 584.7 1554.8 585.4 1556.5 586.0C1558.1 586.6 1559.8 587.1 1561.5 587.5C1563.2 588.0 1564.9 588.3 1566.6 588.6C1568.2 588.8 1569.9 589.0 1571.6 589.1C1573.3 589.1 1575.0 589.1 1576.6 589.0C1578.3 588.8 1580.0 588.6 1581.7 588.3C1583.4 588.0 1585.1 587.5 1586.7 587.0C1588.4 586.5 1590.1 585.9 1591.8 585.3C1593.5 584.6 1595.1 583.9 1596.8 583.1C1598.5 582.3 1600.2 581.4 1601.8 580.5C1603.5 579.6 1605.2 578.7 1606.9 577.7C1608.6 576.7 1610.2 575.7 1611.9 574.7C1613.6 573.7 1615.3 572.7 1617.0 571.7C1618.6 570.6 1620.3 569.6 1622.0 568.7C1623.7 567.7 1625.4 566.8 1627.0 565.9C1628.7 565.0 1630.4 564.1 1632.1 563.3C1633.7 562.6 1635.4 561.8 1637.1 561.2C1638.8 560.5 1640.5 560.0 1642.2 559.5C1643.8 559.0 1645.5 558.6 1647.2 558.3C1648.9 558.0 1650.6 557.8 1652.2 557.7C1653.9 557.6 1655.6 557.5 1657.3 557.6C1659.0 557.7 1660.6 557.9 1662.3 558.2C1664.0 558.4 1665.7 558.8 1667.4 559.3C1669.1 559.7 1670.7 560.3 1672.4 560.9C1674.1 561.5 1675.8 562.2 1677.4 563.0C1679.1 563.8 1680.8 564.6 1682.5 565.5C1684.2 566.4 1685.8 567.3 1687.5 568.2C1689.2 569.2 1690.9 570.2 1692.6 571.2C1694.2 572.2 1695.9 573.2 1697.6 574.2C1699.3 575.3 1701.0 576.3 1702.6 577.3C1704.3 578.2 1706.0 579.2 1707.7 580.1C1709.4 581.0 1711.0 581.9 1712.7 582.7C1714.4 583.5 1716.1 584.3 1717.8 585.0C1719.4 585.7 1721.1 586.3 1722.8 586.8C1724.5 587.3 1726.2 587.8 1727.8 588.1C1729.5 588.5 1731.2 588.7 1732.9 588.9C1734.6 589.1 1736.2 589.1 1737.9 589.1C1739.6 589.1 1741.3 588.9 1743.0 588.7C1744.6 588.5 1746.3 588.1 1748.0 587.7C1749.7 587.3 1751.4 586.8 1753.0 586.2C1754.7 585.6 1756.4 585.0 1758.1 584.2C1759.8 583.5 1761.5 582.7 1763.1 581.8C1764.8 581.0 1766.5 580.1 1768.2 579.1C1769.8 578.2 1771.5 577.2 1773.2 576.2C1774.9 575.2 1776.6 574.2 1778.2 573.2C1779.9 572.2 1781.6 571.2 1783.3 570.2C1785.0 569.2 1786.6 568.2 1788.3 567.3C1790.0 566.3 1791.7 565.4 1793.4 564.6C1795.0 563.7 1796.7 562.9 1798.4 562.2C1800.1 561.5 1801.7 560.8 1803.4 560.3C1805.1 559.7 1806.8 559.2 1808.5 558.8C1810.2 558.4 1811.8 558.1 1813.5 557.9C1815.2 557.7 1816.9 557.6 1818.6 557.6C1820.2 557.6 1821.9 557.6 1823.6 557.8C1825.3 558.0 1827.0 558.3 1828.6 558.6C1830.3 559.0 1832.0 559.5 1833.7 560.0C1835.4 560.6 1837.1 561.2 1838.7 561.9C1840.4 562.6 1842.1 563.4 1843.8 564.2C1845.5 565.0 1847.1 565.9 1848.8 566.8C1850.5 567.7 1852.2 568.7 1853.8 569.7C1855.5 570.7 1857.2 571.7 1858.9 572.7C1860.6 573.7 1862.2 574.7 1863.9 575.7C1865.6 576.7 1867.3 577.7 1869.0 578.7C1870.6 579.6 1872.3 580.6 1874.0 581.4C1875.7 582.3 1877.3 583.1 1879.0 583.9C1880.7 584.6 1882.4 585.3 1884.1 585.9C1885.7 586.5 1887.4 587.1 1889.1 587.5C1890.8 588.0 1892.5 588.3 1894.2 588.6C1895.8 588.8 1897.5 589.0 1899.2 589.1C1900.9 589.1 1902.6 589.1 1904.2 589.0C1905.9 588.8 1907.6 588.6 1909.3 588.3C1911.0 588.0 1912.7 587.5 1914.3 587.0C1916.0 586.5 1917.7 585.9 1919.4 585.3C1921.1 584.6 1922.7 583.9 1924.4 583.1C1926.1 582.3 1927.8 581.4 1929.4 580.5C1931.1 579.6 1932.8 578.7 1934.5 577.7C1936.2 576.7 1937.8 575.7 1939.5 574.7C1941.2 573.7 1942.9 572.7 1944.6 571.7C1946.2 570.7 1947.9 569.7 1949.6 568.7C1951.3 567.7 1953.0 566.8 1954.6 565.9C1956.3 565.0 1958.0 564.1 1959.7 563.4C1961.3 562.6 1963.0 561.9 1964.7 561.2C1966.4 560.6 1968.1 560.0 1969.8 559.5C1971.4 559.0 1973.1 558.6 1974.8 558.3C1976.5 558.0 1978.2 557.8 1979.8 557.7C1981.5 557.6 1983.2 557.5 1984.9 557.6C1986.6 557.7 1988.2 557.9 1989.9 558.2C1991.6 558.4 1993.3 558.8 1995.0 559.3C1996.7 559.7 1998.3 560.3 2000.0 560.9C2001.7 561.5 2003.4 562.2 2005.0 563.0C2006.7 563.7 2008.4 564.6 2010.1 565.5C2011.8 566.3 2013.4 567.3 2015.1 568.2C2016.8 569.2 2018.5 570.2 2020.2 571.2C2021.8 572.2 2023.5 573.2 2025.2 574.2C2026.9 575.2 2028.6 576.2 2030.2 577.2C2031.9 578.2 2033.6 579.2 2035.3 580.1C2037.0 581.0 2038.6 581.9 2040.3 582.7C2042.0 583.5 2043.7 584.3 2045.4 585.0C2047.0 585.6 2048.7 586.3 2050.4 586.8C2052.1 587.3 2053.8 587.8 2055.4 588.1C2057.1 588.5 2058.8 588.7 2060.5 588.9C2062.2 589.1 2063.8 589.1 2065.5 589.1C2067.2 589.1 2068.9 588.9 2070.6 588.7C2072.2 588.5 2073.9 588.1 2075.6 587.7C2077.3 587.3 2079.0 586.8 2080.6 586.2C2082.3 585.7 2084.0 585.0 2085.7 584.3C2087.4 583.5 2089.1 582.7 2090.7 581.9C2092.4 581.0 2094.1 580.1 2095.8 579.2C2097.4 578.2 2099.1 577.2 2100.8 576.2C2102.5 575.3 2104.2 574.2 2105.8 573.2C2107.5 572.2 2109.2 571.2 2110.9 570.2C2112.6 569.2 2114.2 568.2 2115.9 567.3C2117.6 566.4 2119.3 565.4 2121.0 564.6C2122.6 563.8 2124.3 563.0 2126.0 562.2C2127.7 561.5 2129.3 560.9 2131.0 560.3C2132.7 559.7 2134.4 559.2 2136.1 558.8C2137.8 558.4 2139.4 558.1 2141.1 557.9C2142.8 557.7 2144.5 557.6 2146.2 557.6C2147.8 557.6 2149.5 557.6 2151.2 557.8C2152.9 558.0 2154.6 558.3 2156.2 558.6C2157.9 559.0 2159.6 559.5 2161.3 560.0C2163.0 560.5 2164.7 561.2 2166.3 561.9C2168.0 562.6 2169.7 563.3 2171.4 564.2C2173.1 565.0 2174.7 565.9 2176.4 566.8C2178.1 567.7 2179.8 568.7 2181.4 569.7C2183.1 570.7 2184.8 571.7 2186.5 572.7C2188.2 573.7 2189.8 574.7 2191.5 575.7C2193.2 576.7 2194.9 577.7 2196.6 578.7C2198.2 579.6 2199.9 580.5 2201.6 581.4C2203.3 582.3 2204.9 583.1 2206.6 583.9C2208.3 584.6 2210.0 585.3 2211.7 585.9C2213.3 586.5 2215.0 587.1 2216.7 587.5C2218.4 587.9 2220.1 588.3 2221.8 588.6C2223.4 588.8 2225.1 589.0 2226.8 589.1C2228.5 589.1 2230.2 589.1 2231.8 589.0C2233.5 588.8 2235.2 588.6 2236.9 588.3C2238.6 588.0 2240.3 587.5 2241.9 587.1C2243.6 586.6 2245.3 586.0 2247.0 585.3C2248.7 584.7 2250.3 583.9 2252.0 583.1C2253.7 582.3 2255.4 581.5 2257.0 580.6C2258.7 579.7 2260.4 578.7 2262.1 577.7C2263.8 576.8 2265.4 575.8 2267.1 574.8C2268.8 573.7 2270.5 572.7 2272.2 571.7C2273.8 570.7 2275.5 569.7 2277.2 568.7C2278.9 567.8 2280.6 566.8 2282.2 565.9C2283.9 565.0 2285.6 564.2 2287.3 563.4C2288.9 562.6 2290.6 561.9 2292.3 561.2C2294.0 560.6 2295.7 560.0 2297.4 559.5C2299.0 559.0 2300.7 558.6 2302.4 558.3C2304.1 558.0 2305.8 557.8 2307.4 557.7C2309.1 557.6 2310.8 557.5 2312.5 557.6C2314.2 557.7 2315.8 557.9 2317.5 558.2C2319.2 558.4 2320.9 558.8 2322.6 559.2C2324.3 559.7 2325.9 560.3 2327.6 560.9C2329.3 561.5 2331.0 562.2 2332.6 563.0C2334.3 563.7 2336.0 564.6 2337.7 565.4C2339.4 566.3 2341.0 567.2 2342.7 568.2C2344.4 569.2 2346.1 570.2 2347.8 571.2C2349.4 572.2 2351.1 573.2 2352.8 574.2C2354.5 575.2 2356.2 576.2 2357.8 577.2C2359.5 578.2 2361.2 579.1 2362.9 580.1C2364.6 581.0 2366.2 581.9 2367.9 582.7C2369.6 583.5 2371.3 584.3 2373.0 584.9C2374.6 585.6 2376.3 586.2 2378.0 586.8"/>
<path class="cv" stroke="#D95319" d="M1370.0 278.6C1370.2 268.1 1370.7 258.5 1371.3 249.8C1371.8 242.5 1372.6 236.2 1373.3 229.9C1373.9 224.1 1374.2 216.7 1375.3 213.2C1375.9 211.5 1376.6 209.6 1377.3 209.6C1377.9 209.6 1378.7 211.1 1379.3 212.6C1380.7 215.9 1381.7 223.9 1382.6 229.9C1383.6 236.3 1384.3 243.2 1385.0 249.8C1385.7 256.4 1386.4 262.4 1387.0 269.7C1387.8 278.6 1388.5 289.5 1389.2 299.5C1389.9 309.6 1390.5 320.8 1391.2 329.9C1391.8 337.2 1392.4 342.2 1393.0 349.8C1393.8 359.9 1394.6 372.6 1395.3 385.0C1396.1 399.1 1396.9 416.5 1397.7 429.9C1398.3 440.8 1399.0 449.8 1399.6 459.7C1400.3 469.7 1401.0 479.6 1401.6 489.6C1402.2 499.7 1402.8 509.8 1403.4 519.9C1404.0 529.9 1404.5 539.8 1405.1 549.8C1405.7 559.7 1406.4 570.3 1407.0 579.6C1407.5 587.9 1407.7 593.9 1408.3 603.0C1409.1 615.9 1410.5 634.0 1411.5 649.8C1412.6 666.1 1413.7 687.0 1414.6 699.5C1415.2 707.1 1415.7 711.1 1416.2 717.9C1416.9 726.2 1417.4 736.5 1418.2 745.8C1419.0 755.1 1419.9 764.2 1420.9 773.7C1421.9 783.7 1422.8 795.9 1424.1 804.4C1425.0 810.4 1426.1 815.3 1427.3 819.7C1428.3 823.2 1429.1 826.8 1430.5 828.9C1431.4 830.4 1432.6 831.9 1433.7 832.0C1434.7 832.1 1436.0 830.7 1436.9 829.5C1438.2 827.8 1439.1 824.8 1440.1 822.0C1441.3 818.4 1442.2 814.7 1443.3 809.4C1445.2 800.6 1447.7 784.9 1449.3 773.7C1450.7 763.8 1451.6 755.1 1452.8 745.8C1454.0 736.5 1455.4 726.2 1456.7 717.9C1457.8 711.1 1458.8 707.1 1460.0 699.5C1461.9 687.0 1464.2 666.1 1466.2 649.8C1468.2 634.0 1470.6 615.9 1472.0 603.0C1473.0 593.9 1473.3 587.9 1474.3 579.6C1475.4 570.3 1477.0 558.7 1478.3 549.8C1479.3 542.5 1480.2 536.3 1481.2 529.9C1482.2 523.8 1483.2 517.5 1484.4 512.0C1485.4 507.3 1486.4 503.1 1487.6 499.0C1488.7 495.3 1490.1 491.9 1491.4 488.5C1492.7 485.1 1494.1 481.6 1495.5 478.5C1496.8 475.8 1498.0 473.1 1499.5 471.0C1500.7 469.2 1502.0 467.6 1503.5 466.5C1504.8 465.6 1506.4 464.7 1507.8 464.7C1509.2 464.7 1510.7 465.5 1512.0 466.3C1513.6 467.3 1515.1 468.9 1516.5 470.5C1518.1 472.4 1519.6 474.4 1521.1 477.0C1523.0 480.4 1524.8 485.0 1526.4 489.6C1528.3 494.9 1529.7 501.2 1531.4 507.0C1533.1 512.7 1534.8 518.4 1536.5 524.0C1538.2 529.5 1539.7 535.0 1541.4 540.5C1543.1 546.0 1544.8 551.7 1546.5 557.0C1548.1 561.9 1549.7 566.7 1551.5 571.0C1553.1 574.8 1554.6 578.4 1556.5 581.5C1558.2 584.2 1560.0 586.5 1562.0 588.5C1563.9 590.4 1565.8 592.1 1568.0 593.5C1570.2 594.9 1572.6 596.0 1575.0 596.8C1577.3 597.5 1579.6 597.9 1582.0 598.0C1584.6 598.1 1587.1 597.7 1590.0 597.0C1593.6 596.1 1597.6 594.8 1601.9 592.6C1607.6 589.7 1614.3 584.3 1620.5 580.0C1626.7 575.7 1633.4 570.4 1639.1 567.0C1643.7 564.3 1647.8 562.0 1652.0 560.5C1655.7 559.2 1659.2 558.4 1663.0 558.3C1667.1 558.2 1671.3 558.7 1676.0 560.0C1681.8 561.6 1688.3 564.8 1695.0 568.0C1702.8 571.8 1712.8 578.3 1720.0 581.5C1725.2 583.8 1729.8 585.5 1734.0 586.5C1737.3 587.3 1739.9 587.6 1743.0 587.6C1746.5 587.6 1749.8 587.2 1754.0 586.0C1760.0 584.2 1767.7 580.0 1775.0 576.5C1783.0 572.6 1792.9 566.5 1800.0 563.5C1804.9 561.4 1809.0 560.2 1813.0 559.3C1816.2 558.6 1818.7 558.2 1822.0 558.3C1826.2 558.4 1832.5 559.8 1836.2 560.9C1838.7 561.6 1840.2 562.5 1842.2 563.5C1844.3 564.4 1846.3 565.5 1848.3 566.5C1850.3 567.6 1852.3 568.8 1854.3 570.0C1856.4 571.2 1858.4 572.4 1860.4 573.6C1862.4 574.8 1864.4 576.1 1866.4 577.2C1868.4 578.4 1870.5 579.6 1872.5 580.6C1874.5 581.7 1876.5 582.7 1878.5 583.7C1880.5 584.6 1882.5 585.4 1884.6 586.1C1886.6 586.8 1888.6 587.4 1890.6 587.9C1892.6 588.4 1894.7 588.7 1896.7 588.9C1898.7 589.1 1900.7 589.1 1902.7 589.1C1904.7 589.0 1906.8 588.7 1908.8 588.4C1910.8 588.0 1912.8 587.5 1914.8 586.9C1916.9 586.3 1918.9 585.5 1920.9 584.7C1922.9 583.8 1924.9 582.9 1926.9 581.9C1929.0 580.8 1931.0 579.7 1933.0 578.6C1935.0 577.4 1937.0 576.2 1939.0 575.0C1941.0 573.8 1943.0 572.6 1945.1 571.4C1947.1 570.2 1949.1 569.0 1951.1 567.8C1953.1 566.7 1955.1 565.6 1957.2 564.6C1959.2 563.6 1961.2 562.6 1963.2 561.8C1965.2 561.0 1967.2 560.2 1969.3 559.6C1971.3 559.1 1973.3 558.6 1975.3 558.2C1977.3 557.9 1979.3 557.7 1981.4 557.6C1983.4 557.5 1985.4 557.6 1987.4 557.8C1989.4 558.0 1991.4 558.4 1993.4 558.9C1995.5 559.4 1997.5 560.0 1999.5 560.7C2001.5 561.4 2003.5 562.3 2005.5 563.2C2007.6 564.1 2009.6 565.2 2011.6 566.3C2013.6 567.3 2015.6 568.5 2017.6 569.7C2019.7 570.9 2021.7 572.1 2023.7 573.3C2025.7 574.5 2027.7 575.8 2029.7 576.9C2031.7 578.1 2033.8 579.3 2035.8 580.4C2037.8 581.4 2039.8 582.5 2041.8 583.4C2043.8 584.3 2045.8 585.2 2047.9 585.9C2049.9 586.6 2051.9 587.3 2053.9 587.8C2055.9 588.3 2058.0 588.6 2060.0 588.8C2062.0 589.1 2064.0 589.1 2066.0 589.1C2068.0 589.0 2070.1 588.8 2072.1 588.5C2074.1 588.1 2076.1 587.6 2078.1 587.1C2080.2 586.5 2082.2 585.7 2084.2 584.9C2086.2 584.1 2088.2 583.1 2090.2 582.1C2092.2 581.1 2094.3 580.0 2096.3 578.9C2098.3 577.7 2100.3 576.5 2102.3 575.3C2104.3 574.1 2106.3 572.9 2108.4 571.7C2110.4 570.5 2112.4 569.3 2114.4 568.1C2116.4 567.0 2118.4 565.9 2120.5 564.9C2122.5 563.8 2124.5 562.9 2126.5 562.0C2128.5 561.2 2130.5 560.4 2132.6 559.8C2134.6 559.2 2136.6 558.7 2138.6 558.3C2140.6 557.9 2142.6 557.7 2144.6 557.6C2146.7 557.5 2148.7 557.6 2150.7 557.8C2152.7 558.0 2154.7 558.3 2156.7 558.7C2158.8 559.2 2160.8 559.8 2162.8 560.5C2164.8 561.2 2166.8 562.1 2168.8 563.0C2170.9 563.9 2172.9 564.9 2174.9 566.0C2176.9 567.0 2178.9 568.2 2180.9 569.4C2183.0 570.5 2185.0 571.8 2187.0 573.0C2189.0 574.2 2191.0 575.4 2193.0 576.6C2195.0 577.8 2197.1 579.0 2199.1 580.1C2201.1 581.2 2203.1 582.2 2205.1 583.2C2207.1 584.1 2209.1 585.0 2211.2 585.7C2213.2 586.5 2215.2 587.1 2217.2 587.6C2219.2 588.1 2221.2 588.5 2223.3 588.8C2225.3 589.0 2227.3 589.1 2229.3 589.1C2231.3 589.1 2233.4 588.9 2235.4 588.6C2237.4 588.2 2239.4 587.8 2241.4 587.2C2243.4 586.6 2245.5 585.9 2247.5 585.1C2249.5 584.3 2251.5 583.4 2253.5 582.4C2255.5 581.4 2257.6 580.3 2259.6 579.2C2261.6 578.1 2263.6 576.9 2265.6 575.7C2267.6 574.5 2269.6 573.2 2271.7 572.0C2273.7 570.8 2275.7 569.6 2277.7 568.4C2279.7 567.3 2281.7 566.2 2283.8 565.1C2285.8 564.1 2287.8 563.1 2289.8 562.3C2291.8 561.4 2293.8 560.6 2295.8 560.0C2297.8 559.3 2299.9 558.8 2301.9 558.4C2303.9 558.0 2305.9 557.8 2307.9 557.6C2310.0 557.5 2312.0 557.6 2314.0 557.7C2316.0 557.9 2318.0 558.2 2320.0 558.6C2322.1 559.1 2324.1 559.7 2326.1 560.3C2328.1 561.0 2330.1 561.8 2332.1 562.7C2334.2 563.6 2336.2 564.6 2338.2 565.7C2340.2 566.8 2342.2 567.9 2344.2 569.1C2346.3 570.2 2348.3 571.5 2350.3 572.7C2352.3 573.9 2354.3 575.1 2356.3 576.3C2358.3 577.5 2360.3 578.7 2362.4 579.8C2364.4 580.9 2366.4 582.0 2368.4 582.9C2370.4 583.9 2372.7 584.9 2374.5 585.5C2375.8 586.1 2377.0 586.5 2378.0 586.8"/>
<path class="cv" stroke="#EDB120" d="M1370.0 106.0C1370.5 114.2 1371.0 122.1 1371.6 129.6C1372.1 136.5 1372.6 142.2 1373.3 149.5C1374.1 158.5 1375.2 170.1 1376.2 179.7C1377.1 188.5 1377.9 196.6 1378.8 205.0C1379.7 213.3 1380.7 222.1 1381.6 229.9C1382.4 236.9 1383.0 243.2 1383.7 249.8C1384.3 256.4 1384.8 262.4 1385.5 269.7C1386.3 278.6 1387.5 289.5 1388.4 299.5C1389.3 309.6 1390.1 320.8 1390.9 329.9C1391.5 337.2 1392.1 343.0 1392.7 349.8C1393.3 357.0 1394.0 364.2 1394.6 372.0C1395.3 380.8 1396.0 390.5 1396.8 400.0C1397.6 409.8 1398.4 420.0 1399.2 430.0C1400.0 439.9 1400.7 449.8 1401.4 459.7C1402.1 469.6 1402.9 480.6 1403.6 489.6C1404.2 497.1 1404.7 503.2 1405.4 510.0C1406.1 516.7 1406.8 523.4 1407.6 530.0C1408.4 536.6 1409.6 542.5 1410.4 549.8C1411.4 558.7 1412.4 570.3 1413.1 579.6C1413.7 587.9 1413.9 593.9 1414.6 603.0C1415.6 615.9 1417.2 634.0 1418.6 649.8C1420.0 666.1 1421.4 687.0 1422.9 699.5C1423.8 707.1 1424.7 711.2 1425.7 717.9C1427.0 726.0 1428.5 736.9 1430.0 744.7C1431.2 750.8 1432.3 756.2 1433.8 760.9C1435.0 764.6 1436.0 768.4 1437.6 770.7C1438.7 772.2 1440.1 773.9 1441.4 773.9C1442.7 773.9 1444.1 772.4 1445.2 771.0C1446.8 769.0 1447.8 765.7 1449.0 762.3C1450.4 758.2 1451.5 753.3 1452.8 747.9C1454.4 741.2 1456.0 732.8 1457.8 725.0C1459.7 716.7 1461.9 709.5 1463.7 699.5C1466.3 685.7 1468.5 666.1 1470.7 649.8C1472.9 634.0 1475.4 615.9 1476.9 603.0C1478.0 593.9 1478.2 587.9 1479.2 579.6C1480.3 570.3 1481.8 558.7 1483.2 549.8C1484.3 542.5 1485.5 536.0 1486.7 529.9C1487.8 524.6 1488.7 520.0 1490.0 515.0C1491.3 510.0 1492.7 504.4 1494.4 500.0C1495.8 496.4 1497.3 493.1 1498.9 490.5C1500.2 488.5 1501.6 486.8 1503.0 485.5C1504.1 484.5 1505.3 483.8 1506.5 483.3C1507.6 482.9 1508.7 482.6 1509.8 482.7C1511.0 482.8 1512.3 483.2 1513.5 483.8C1514.9 484.5 1516.2 485.6 1517.5 486.8C1518.9 488.1 1520.2 489.8 1521.5 491.5C1522.9 493.3 1524.3 495.2 1525.5 497.5C1527.0 500.2 1528.0 503.7 1529.4 507.0C1531.0 510.8 1532.8 514.8 1534.5 519.0C1536.4 523.7 1538.7 529.2 1540.4 533.9C1542.0 538.1 1543.1 541.8 1544.5 546.0C1545.9 550.4 1547.3 555.1 1548.8 559.7C1550.3 564.3 1551.7 569.4 1553.5 573.5C1555.0 577.0 1556.6 580.3 1558.5 583.0C1560.2 585.4 1561.9 587.3 1564.0 589.0C1566.1 590.7 1568.5 592.2 1571.0 593.3C1573.5 594.4 1576.2 595.2 1579.0 595.4C1581.9 595.6 1584.7 595.3 1588.0 594.5C1592.2 593.5 1597.0 591.4 1601.9 589.0C1607.8 586.1 1614.3 581.4 1620.5 577.5C1626.7 573.6 1633.4 568.7 1639.1 565.5C1643.7 563.0 1647.8 560.8 1652.0 559.5C1655.7 558.3 1659.2 557.6 1663.0 557.6C1667.1 557.5 1671.4 558.1 1676.0 559.5C1681.9 561.3 1688.3 565.0 1695.0 568.5C1702.8 572.5 1712.7 579.2 1720.0 582.5C1725.2 584.9 1729.8 586.5 1734.0 587.5C1737.3 588.3 1739.9 588.6 1743.0 588.5C1746.5 588.4 1749.9 588.0 1754.0 586.7C1760.0 584.8 1767.7 580.2 1775.0 576.5C1783.0 572.4 1792.9 566.0 1800.0 563.0C1804.9 560.9 1809.0 559.8 1813.0 559.0C1816.2 558.3 1818.7 557.8 1822.0 558.0C1826.2 558.2 1832.5 559.7 1836.2 560.9C1838.7 561.7 1840.2 562.5 1842.2 563.5C1844.3 564.4 1846.3 565.5 1848.3 566.5C1850.3 567.6 1852.3 568.8 1854.3 570.0C1856.4 571.2 1858.4 572.4 1860.4 573.6C1862.4 574.8 1864.4 576.1 1866.4 577.2C1868.4 578.4 1870.5 579.6 1872.5 580.6C1874.5 581.7 1876.5 582.7 1878.5 583.7C1880.5 584.6 1882.5 585.4 1884.6 586.1C1886.6 586.8 1888.6 587.4 1890.6 587.9C1892.6 588.4 1894.7 588.7 1896.7 588.9C1898.7 589.1 1900.7 589.1 1902.7 589.1C1904.7 589.0 1906.8 588.7 1908.8 588.4C1910.8 588.0 1912.8 587.5 1914.8 586.9C1916.9 586.3 1918.9 585.5 1920.9 584.7C1922.9 583.8 1924.9 582.9 1926.9 581.9C1929.0 580.8 1931.0 579.7 1933.0 578.6C1935.0 577.4 1937.0 576.2 1939.0 575.0C1941.0 573.8 1943.0 572.6 1945.1 571.4C1947.1 570.2 1949.1 569.0 1951.1 567.8C1953.1 566.7 1955.1 565.6 1957.2 564.6C1959.2 563.6 1961.2 562.6 1963.2 561.8C1965.2 561.0 1967.2 560.2 1969.3 559.6C1971.3 559.1 1973.3 558.6 1975.3 558.2C1977.3 557.9 1979.3 557.7 1981.4 557.6C1983.4 557.5 1985.4 557.6 1987.4 557.8C1989.4 558.0 1991.4 558.4 1993.4 558.9C1995.5 559.4 1997.5 560.0 1999.5 560.7C2001.5 561.4 2003.5 562.3 2005.5 563.2C2007.6 564.1 2009.6 565.2 2011.6 566.3C2013.6 567.3 2015.6 568.5 2017.6 569.7C2019.7 570.9 2021.7 572.1 2023.7 573.3C2025.7 574.5 2027.7 575.8 2029.7 576.9C2031.7 578.1 2033.8 579.3 2035.8 580.4C2037.8 581.4 2039.8 582.5 2041.8 583.4C2043.8 584.3 2045.8 585.2 2047.9 585.9C2049.9 586.6 2051.9 587.3 2053.9 587.8C2055.9 588.3 2058.0 588.6 2060.0 588.8C2062.0 589.1 2064.0 589.1 2066.0 589.1C2068.0 589.0 2070.1 588.8 2072.1 588.5C2074.1 588.1 2076.1 587.6 2078.1 587.1C2080.2 586.5 2082.2 585.7 2084.2 584.9C2086.2 584.1 2088.2 583.1 2090.2 582.1C2092.2 581.1 2094.3 580.0 2096.3 578.9C2098.3 577.7 2100.3 576.5 2102.3 575.3C2104.3 574.1 2106.3 572.9 2108.4 571.7C2110.4 570.5 2112.4 569.3 2114.4 568.1C2116.4 567.0 2118.4 565.9 2120.5 564.9C2122.5 563.8 2124.5 562.9 2126.5 562.0C2128.5 561.2 2130.5 560.4 2132.6 559.8C2134.6 559.2 2136.6 558.7 2138.6 558.3C2140.6 557.9 2142.6 557.7 2144.6 557.6C2146.7 557.5 2148.7 557.6 2150.7 557.8C2152.7 558.0 2154.7 558.3 2156.7 558.7C2158.8 559.2 2160.8 559.8 2162.8 560.5C2164.8 561.2 2166.8 562.1 2168.8 563.0C2170.9 563.9 2172.9 564.9 2174.9 566.0C2176.9 567.0 2178.9 568.2 2180.9 569.4C2183.0 570.5 2185.0 571.8 2187.0 573.0C2189.0 574.2 2191.0 575.4 2193.0 576.6C2195.0 577.8 2197.1 579.0 2199.1 580.1C2201.1 581.2 2203.1 582.2 2205.1 583.2C2207.1 584.1 2209.1 585.0 2211.2 585.7C2213.2 586.5 2215.2 587.1 2217.2 587.6C2219.2 588.1 2221.2 588.5 2223.3 588.8C2225.3 589.0 2227.3 589.1 2229.3 589.1C2231.3 589.1 2233.4 588.9 2235.4 588.6C2237.4 588.2 2239.4 587.8 2241.4 587.2C2243.4 586.6 2245.5 585.9 2247.5 585.1C2249.5 584.3 2251.5 583.4 2253.5 582.4C2255.5 581.4 2257.6 580.3 2259.6 579.2C2261.6 578.1 2263.6 576.9 2265.6 575.7C2267.6 574.5 2269.6 573.2 2271.7 572.0C2273.7 570.8 2275.7 569.6 2277.7 568.4C2279.7 567.3 2281.7 566.2 2283.8 565.1C2285.8 564.1 2287.8 563.1 2289.8 562.3C2291.8 561.4 2293.8 560.6 2295.8 560.0C2297.8 559.3 2299.9 558.8 2301.9 558.4C2303.9 558.0 2305.9 557.8 2307.9 557.6C2310.0 557.5 2312.0 557.6 2314.0 557.7C2316.0 557.9 2318.0 558.2 2320.0 558.6C2322.1 559.1 2324.1 559.7 2326.1 560.3C2328.1 561.0 2330.1 561.8 2332.1 562.7C2334.2 563.6 2336.2 564.6 2338.2 565.7C2340.2 566.8 2342.2 567.9 2344.2 569.1C2346.3 570.2 2348.3 571.5 2350.3 572.7C2352.3 573.9 2354.3 575.1 2356.3 576.3C2358.3 577.5 2360.3 578.7 2362.4 579.8C2364.4 580.9 2366.4 582.0 2368.4 582.9C2370.4 583.9 2372.7 584.9 2374.5 585.5C2375.8 586.1 2377.0 586.5 2378.0 586.8"/>
<path class="cv" stroke="#7E2F8E" d="M1370.0 520.0C1370.2 509.8 1370.6 499.7 1371.1 489.6C1371.6 479.6 1372.4 469.7 1373.1 459.7C1373.8 449.8 1374.6 439.8 1375.3 429.9C1376.1 419.9 1376.7 409.0 1377.6 400.0C1378.3 392.5 1379.1 385.8 1380.1 379.6C1381.0 374.4 1381.6 368.4 1383.1 365.3C1383.9 363.5 1385.1 361.5 1386.1 361.5C1387.1 361.5 1388.2 363.4 1389.1 365.1C1390.6 368.2 1391.4 374.3 1392.5 379.6C1393.8 385.8 1395.0 392.5 1396.1 400.0C1397.5 409.0 1398.6 419.9 1399.8 429.9C1401.0 439.8 1402.3 449.8 1403.5 459.7C1404.7 469.7 1405.8 479.6 1406.8 489.6C1407.8 499.7 1408.6 509.8 1409.5 519.9C1410.4 529.9 1411.4 539.8 1412.3 549.8C1413.2 559.7 1413.9 570.3 1414.7 579.6C1415.4 587.9 1415.8 593.9 1416.7 603.0C1417.9 615.9 1420.0 634.0 1421.5 649.8C1423.1 666.1 1423.8 685.7 1426.0 699.5C1427.6 709.5 1429.9 716.9 1431.9 725.0C1433.7 732.3 1435.8 740.6 1437.5 745.8C1438.5 749.0 1439.3 751.2 1440.3 753.3C1441.1 754.9 1441.8 756.5 1442.8 757.4C1443.5 758.1 1444.5 758.8 1445.3 758.8C1446.1 758.8 1447.0 758.2 1447.8 757.5C1448.8 756.6 1449.5 755.1 1450.3 753.5C1451.4 751.4 1452.4 749.1 1453.5 745.8C1455.4 740.1 1457.3 729.8 1459.3 722.0C1461.3 714.4 1463.6 708.5 1465.5 699.5C1468.3 686.2 1470.5 666.1 1473.0 649.8C1475.4 634.0 1478.2 615.9 1480.0 603.0C1481.3 593.9 1482.0 587.9 1483.1 579.6C1484.4 570.3 1485.8 558.2 1487.3 549.8C1488.4 543.6 1489.6 538.3 1490.9 533.8C1492.1 532.2 1493.4 530.6 1494.8 529.0C1496.2 527.3 1497.9 525.8 1499.4 524.0C1501.1 522.0 1502.6 519.6 1504.3 517.6C1505.9 515.8 1507.5 513.9 1509.3 512.6C1510.9 511.4 1512.6 510.1 1514.3 510.0C1515.9 509.9 1517.8 510.8 1519.3 512.0C1521.2 513.4 1522.7 516.0 1524.2 518.5C1526.0 521.4 1527.6 525.0 1529.2 528.5C1530.9 532.1 1532.6 536.0 1534.2 539.8C1535.9 543.7 1537.5 547.8 1539.2 551.8C1540.9 555.8 1542.5 559.8 1544.2 563.7C1545.8 567.4 1547.3 571.5 1549.1 574.7C1550.6 577.4 1552.3 580.0 1554.1 581.8C1555.6 583.3 1557.2 584.4 1559.1 585.3C1561.1 586.3 1563.6 587.1 1566.0 587.6C1568.5 588.2 1571.3 588.5 1574.0 588.5C1576.9 588.5 1579.6 588.3 1583.0 587.6C1587.8 586.7 1594.1 584.8 1600.0 582.6C1606.6 580.2 1613.9 576.6 1620.5 573.5C1626.9 570.5 1633.7 566.5 1639.1 564.2C1643.2 562.5 1646.4 561.2 1650.0 560.3C1653.2 559.5 1656.3 559.1 1659.5 559.0C1662.9 558.9 1666.0 559.1 1670.0 560.0C1675.7 561.2 1683.1 564.1 1690.0 567.0C1698.0 570.4 1707.7 576.2 1715.0 579.5C1720.6 582.0 1725.4 584.2 1730.0 585.5C1733.7 586.5 1736.8 587.2 1740.3 587.3C1743.8 587.4 1746.9 587.3 1751.0 586.3C1756.9 584.8 1764.7 580.9 1772.0 577.5C1780.3 573.6 1790.7 567.0 1798.0 564.0C1803.0 561.9 1806.9 560.7 1811.0 559.8C1814.5 559.0 1817.3 558.5 1821.0 558.6C1825.5 558.7 1832.3 559.8 1836.2 560.9C1838.7 561.6 1840.2 562.5 1842.2 563.5C1844.3 564.4 1846.3 565.5 1848.3 566.5C1850.3 567.6 1852.3 568.8 1854.3 570.0C1856.4 571.2 1858.4 572.4 1860.4 573.6C1862.4 574.8 1864.4 576.1 1866.4 577.2C1868.4 578.4 1870.5 579.6 1872.5 580.6C1874.5 581.7 1876.5 582.7 1878.5 583.7C1880.5 584.6 1882.5 585.4 1884.6 586.1C1886.6 586.8 1888.6 587.4 1890.6 587.9C1892.6 588.4 1894.7 588.7 1896.7 588.9C1898.7 589.1 1900.7 589.1 1902.7 589.1C1904.7 589.0 1906.8 588.7 1908.8 588.4C1910.8 588.0 1912.8 587.5 1914.8 586.9C1916.9 586.3 1918.9 585.5 1920.9 584.7C1922.9 583.8 1924.9 582.9 1926.9 581.9C1929.0 580.8 1931.0 579.7 1933.0 578.6C1935.0 577.4 1937.0 576.2 1939.0 575.0C1941.0 573.8 1943.0 572.6 1945.1 571.4C1947.1 570.2 1949.1 569.0 1951.1 567.8C1953.1 566.7 1955.1 565.6 1957.2 564.6C1959.2 563.6 1961.2 562.6 1963.2 561.8C1965.2 561.0 1967.2 560.2 1969.3 559.6C1971.3 559.1 1973.3 558.6 1975.3 558.2C1977.3 557.9 1979.3 557.7 1981.4 557.6C1983.4 557.5 1985.4 557.6 1987.4 557.8C1989.4 558.0 1991.4 558.4 1993.4 558.9C1995.5 559.4 1997.5 560.0 1999.5 560.7C2001.5 561.4 2003.5 562.3 2005.5 563.2C2007.6 564.1 2009.6 565.2 2011.6 566.3C2013.6 567.3 2015.6 568.5 2017.6 569.7C2019.7 570.9 2021.7 572.1 2023.7 573.3C2025.7 574.5 2027.7 575.8 2029.7 576.9C2031.7 578.1 2033.8 579.3 2035.8 580.4C2037.8 581.4 2039.8 582.5 2041.8 583.4C2043.8 584.3 2045.8 585.2 2047.9 585.9C2049.9 586.6 2051.9 587.3 2053.9 587.8C2055.9 588.3 2058.0 588.6 2060.0 588.8C2062.0 589.1 2064.0 589.1 2066.0 589.1C2068.0 589.0 2070.1 588.8 2072.1 588.5C2074.1 588.1 2076.1 587.6 2078.1 587.1C2080.2 586.5 2082.2 585.7 2084.2 584.9C2086.2 584.1 2088.2 583.1 2090.2 582.1C2092.2 581.1 2094.3 580.0 2096.3 578.9C2098.3 577.7 2100.3 576.5 2102.3 575.3C2104.3 574.1 2106.3 572.9 2108.4 571.7C2110.4 570.5 2112.4 569.3 2114.4 568.1C2116.4 567.0 2118.4 565.9 2120.5 564.9C2122.5 563.8 2124.5 562.9 2126.5 562.0C2128.5 561.2 2130.5 560.4 2132.6 559.8C2134.6 559.2 2136.6 558.7 2138.6 558.3C2140.6 557.9 2142.6 557.7 2144.6 557.6C2146.7 557.5 2148.7 557.6 2150.7 557.8C2152.7 558.0 2154.7 558.3 2156.7 558.7C2158.8 559.2 2160.8 559.8 2162.8 560.5C2164.8 561.2 2166.8 562.1 2168.8 563.0C2170.9 563.9 2172.9 564.9 2174.9 566.0C2176.9 567.0 2178.9 568.2 2180.9 569.4C2183.0 570.5 2185.0 571.8 2187.0 573.0C2189.0 574.2 2191.0 575.4 2193.0 576.6C2195.0 577.8 2197.1 579.0 2199.1 580.1C2201.1 581.2 2203.1 582.2 2205.1 583.2C2207.1 584.1 2209.1 585.0 2211.2 585.7C2213.2 586.5 2215.2 587.1 2217.2 587.6C2219.2 588.1 2221.2 588.5 2223.3 588.8C2225.3 589.0 2227.3 589.1 2229.3 589.1C2231.3 589.1 2233.4 588.9 2235.4 588.6C2237.4 588.2 2239.4 587.8 2241.4 587.2C2243.4 586.6 2245.5 585.9 2247.5 585.1C2249.5 584.3 2251.5 583.4 2253.5 582.4C2255.5 581.4 2257.6 580.3 2259.6 579.2C2261.6 578.1 2263.6 576.9 2265.6 575.7C2267.6 574.5 2269.6 573.2 2271.7 572.0C2273.7 570.8 2275.7 569.6 2277.7 568.4C2279.7 567.3 2281.7 566.2 2283.8 565.1C2285.8 564.1 2287.8 563.1 2289.8 562.3C2291.8 561.4 2293.8 560.6 2295.8 560.0C2297.8 559.3 2299.9 558.8 2301.9 558.4C2303.9 558.0 2305.9 557.8 2307.9 557.6C2310.0 557.5 2312.0 557.6 2314.0 557.7C2316.0 557.9 2318.0 558.2 2320.0 558.6C2322.1 559.1 2324.1 559.7 2326.1 560.3C2328.1 561.0 2330.1 561.8 2332.1 562.7C2334.2 563.6 2336.2 564.6 2338.2 565.7C2340.2 566.8 2342.2 567.9 2344.2 569.1C2346.3 570.2 2348.3 571.5 2350.3 572.7C2352.3 573.9 2354.3 575.1 2356.3 576.3C2358.3 577.5 2360.3 578.7 2362.4 579.8C2364.4 580.9 2366.4 582.0 2368.4 582.9C2370.4 583.9 2372.7 584.9 2374.5 585.5C2375.8 586.1 2377.0 586.5 2378.0 586.8"/>
<rect x="2196.40" y="68.10" width="155.60" height="145.60" fill="#fff" stroke="#1a1a1a" stroke-width="2.00"/>
<path d="M2204.8 88.8H2298.9" stroke="#0072BD" stroke-width="7.4"/>
<text class="lg" y="95.8"><tspan class="lx" x="2306.2">x</tspan><tspan class="ls" x="2322.2" dy="4.5">02</tspan></text>
<path d="M2204.8 123.3H2298.9" stroke="#D95319" stroke-width="7.4"/>
<text class="lg" y="130.3"><tspan class="lx" x="2306.2">x</tspan><tspan class="ls" x="2322.2" dy="4.5">12</tspan></text>
<path d="M2204.8 158.3H2298.9" stroke="#EDB120" stroke-width="7.4"/>
<text class="lg" y="165.3"><tspan class="lx" x="2306.2">x</tspan><tspan class="ls" x="2322.2" dy="4.5">22</tspan></text>
<path d="M2204.8 192.5H2298.9" stroke="#7E2F8E" stroke-width="7.4"/>
<text class="lg" y="199.5"><tspan class="lx" x="2306.2">x</tspan><tspan class="ls" x="2322.2" dy="4.5">32</tspan></text>
<text class="al" text-anchor="middle" x="1873.0" y="929.0">t</text>
<text class="al yl" text-anchor="middle" transform="translate(1291.8 442.1) rotate(-90)">State</text>
<text class="cap" y="1037.7"><tspan x="1775.2">(</tspan><tspan class="b" x="1803.7">b</tspan><tspan x="1853.5">)</tspan></text>
</g>
</svg></body></html>
